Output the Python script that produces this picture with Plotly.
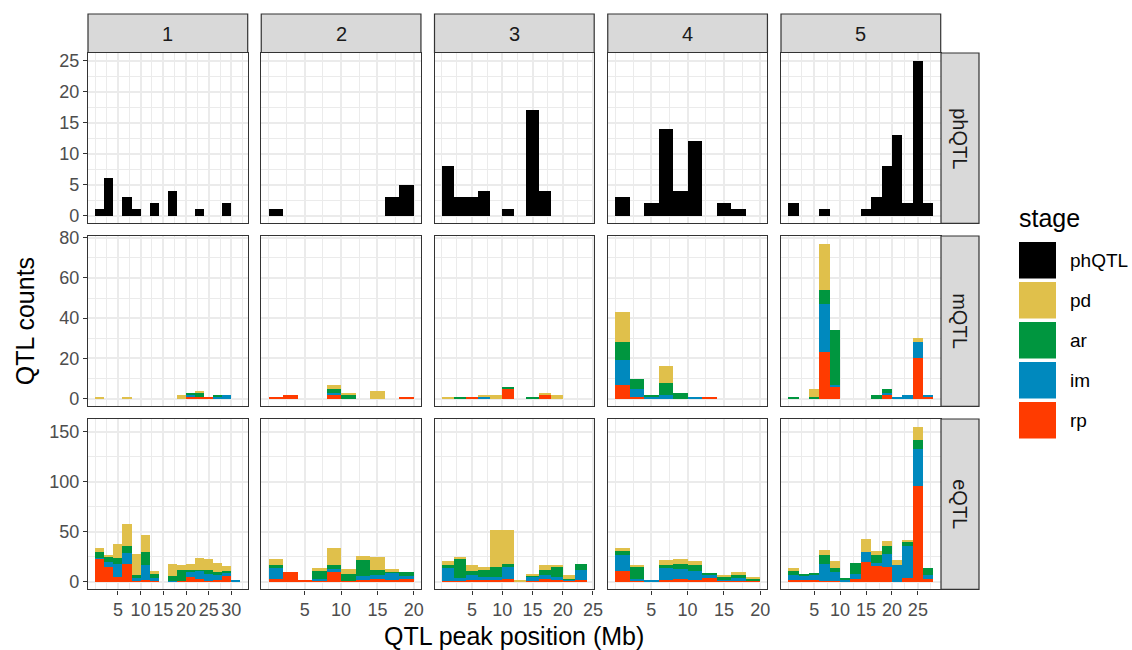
import plotly.graph_objects as go

# ---------------- data ----------------
chromosomes = ["1", "2", "3", "4", "5"]
qtl_types = ["phQTL", "mQTL", "eQTL"]
stages = ["phQTL", "pd", "ar", "im", "rp"]
bin_width = 2
n_bins = [16, 10, 12, 10, 14]
x_last_tick = [30, 20, 25, 20, 25]

# phQTL counts per chromosome (bins of 2 Mb from 0)
phQTL_counts = [
    [1, 6, 0, 3, 1, 0, 2, 0, 4, 0, 0, 1, 0, 0, 2, 0],
    [1, 0, 0, 0, 0, 0, 0, 0, 3, 5],
    [8, 3, 3, 4, 0, 1, 0, 17, 4, 0, 0, 0],
    [3, 0, 2, 14, 4, 12, 0, 2, 1, 0],
    [2, 0, 0, 1, 0, 0, 0, 1, 3, 8, 13, 2, 25, 2],
]

# mQTL counts per stage, per chromosome
mQTL_rp = [
    [0, 0, 0, 0, 0, 0, 0, 0, 0, 0, 1, 1, 1, 0, 0, 0],
    [1, 2, 0, 0, 2, 0, 0, 0, 0, 1],
    [0, 0, 1, 0, 0, 5, 0, 0, 2, 0, 0, 0],
    [7, 1, 0, 0, 0, 0, 1, 0, 0, 0],
    [0, 0, 0, 23, 6, 0, 0, 0, 0, 2, 0, 0, 20, 1],
]
mQTL_im = [
    [0, 0, 0, 0, 0, 0, 0, 0, 0, 0, 1, 0, 0, 1, 2, 0],
    [0, 0, 0, 0, 1, 0, 0, 0, 0, 0],
    [0, 0, 0, 1, 0, 0, 0, 0, 0, 0, 0, 0],
    [12, 4, 1, 2, 0, 1, 0, 0, 0, 0],
    [0, 0, 0, 24, 1, 0, 0, 0, 0, 1, 1, 2, 8, 1],
]
mQTL_ar = [
    [0, 0, 0, 0, 0, 0, 0, 0, 0, 0, 1, 2, 0, 1, 0, 0],
    [0, 0, 0, 0, 2, 2, 0, 0, 0, 0],
    [0, 1, 0, 0, 0, 1, 0, 1, 0, 0, 0, 0],
    [9, 5, 1, 6, 3, 0, 0, 0, 0, 0],
    [1, 0, 1, 7, 27, 0, 0, 0, 2, 2, 0, 0, 0, 0],
]
mQTL_pd = [
    [1, 0, 0, 1, 0, 0, 0, 0, 0, 2, 0, 1, 0, 0, 0, 0],
    [0, 0, 0, 0, 2, 1, 0, 4, 0, 0],
    [1, 0, 0, 1, 2, 0, 0, 0, 1, 2, 0, 0],
    [15, 0, 0, 8, 0, 0, 0, 0, 0, 0],
    [0, 0, 4, 23, 0, 0, 0, 0, 0, 0, 0, 0, 2, 0],
]

# eQTL counts per stage, per chromosome
eQTL_rp = [
    [23, 15, 5, 18, 1, 2, 1, 0, 0, 1, 5, 3, 1, 2, 6, 0],
    [3, 10, 1, 1, 10, 1, 2, 3, 2, 3],
    [1, 1, 2, 2, 2, 3, 0, 1, 3, 2, 1, 2],
    [11, 1, 0, 2, 3, 2, 4, 1, 1, 1],
    [2, 2, 2, 1, 1, 0, 3, 20, 16, 15, 0, 4, 96, 3],
]
eQTL_im = [
    [1, 5, 13, 11, 3, 15, 3, 0, 1, 0, 5, 8, 7, 5, 3, 1],
    [11, 0, 0, 2, 3, 0, 4, 4, 7, 3],
    [13, 3, 5, 3, 3, 12, 0, 4, 4, 3, 1, 10],
    [16, 2, 1, 12, 10, 9, 3, 1, 3, 0],
    [5, 4, 5, 17, 9, 2, 5, 10, 3, 13, 17, 32, 37, 4],
]
eQTL_ar = [
    [6, 5, 6, 7, 3, 13, 4, 0, 5, 11, 2, 1, 4, 3, 2, 0],
    [3, 0, 0, 8, 4, 7, 16, 5, 1, 4],
    [3, 19, 4, 7, 10, 3, 0, 1, 5, 10, 1, 6],
    [4, 12, 0, 3, 5, 6, 2, 3, 3, 2],
    [4, 1, 1, 9, 4, 1, 11, 0, 8, 8, 0, 4, 9, 7],
]
eQTL_pd = [
    [4, 1, 14, 22, 21, 17, 3, 0, 12, 5, 6, 12, 11, 9, 5, 0],
    [6, 0, 0, 3, 17, 5, 4, 13, 3, 0],
    [4, 2, 6, 3, 37, 34, 1, 1, 5, 2, 4, 0],
    [3, 1, 0, 5, 5, 4, 0, 2, 3, 1],
    [3, 0, 0, 5, 7, 0, 0, 13, 4, 5, 5, 2, 13, 0],
]

y_ticks_ph = [0, 5, 10, 15, 20, 25]
y_ticks_m = [0, 20, 40, 60, 80]
y_ticks_e = [0, 50, 100, 150]

# ---------------- styling ----------------
W, H = 1132, 650
colors = {"phQTL": "#000000", "pd": "#E0C04B", "ar": "#00963F",
          "im": "#0089BE", "rp": "#FF3B00"}
FONT = "Liberation Sans, Arial, sans-serif"
GRID = "#EBEBEB"
BORDER = "#333333"

col_left = [88 + 173.25 * c for c in range(5)]
col_w = 159.7
row_top = [53 + 183 * r for r in range(3)]
row_h = 170.4


def px(x):
    return x / W


def py(y):
    return 1 - y / H


stack_data = {
    "mQTL": {"rp": mQTL_rp, "im": mQTL_im, "ar": mQTL_ar, "pd": mQTL_pd},
    "eQTL": {"rp": eQTL_rp, "im": eQTL_im, "ar": eQTL_ar, "pd": eQTL_pd},
}
row_ticks = [y_ticks_ph, y_ticks_m, y_ticks_e]

# y-range per row from data (5% expansion like ggplot)
row_max = []
for qt in qtl_types:
    if qt == "phQTL":
        m = max(max(v) for v in phQTL_counts)
    else:
        m = 0
        for c in range(5):
            for k in range(n_bins[c]):
                m = max(m, sum(stack_data[qt][s][c][k] for s in ["rp", "im", "ar", "pd"]))
    row_max.append(m)

fig = go.Figure()
layout_axes = {}
for r, qt in enumerate(qtl_types):
    ymax = row_max[r]
    yr = [-0.05 * ymax, 1.05 * ymax]
    yt = row_ticks[r]
    ystep = yt[1] - yt[0]
    yminor = [v + ystep / 2 for v in [yt[0] - ystep] + yt if yr[0] < v + ystep / 2 < yr[1]]
    for c in range(5):
        idx = r * 5 + c + 1
        sfx = "" if idx == 1 else str(idx)
        centers = [bin_width * (k + 0.5) for k in range(n_bins[c])]
        if qt == "phQTL":
            fig.add_trace(go.Bar(x=centers, y=phQTL_counts[c], width=bin_width,
                                 marker=dict(color=colors["phQTL"], line=dict(width=0)),
                                 xaxis="x" + sfx, yaxis="y" + sfx, showlegend=False,
                                 name="phQTL"))
        else:
            for s in ["rp", "im", "ar", "pd"]:
                fig.add_trace(go.Bar(x=centers, y=stack_data[qt][s][c], width=bin_width,
                                     marker=dict(color=colors[s], line=dict(width=0)),
                                     xaxis="x" + sfx, yaxis="y" + sfx, showlegend=False,
                                     name=s))
        xmax = n_bins[c] * bin_width
        xr = [-0.05 * xmax, 1.05 * xmax]
        xt = list(range(5, x_last_tick[c] + 1, 5))
        xminor = [v for v in [0] + [t + 2.5 for t in [0] + xt] if xr[0] < v < xr[1]]
        bottom = r == 2
        left = c == 0
        layout_axes["xaxis" + sfx] = dict(
            domain=[px(col_left[c]), px(col_left[c] + col_w)],
            anchor="y" + sfx, range=xr, tickmode="array", tickvals=xt,
            showticklabels=bottom, ticks="outside" if bottom else "",
            ticklen=4, tickwidth=1, tickcolor=BORDER,
            tickfont=dict(size=18, color="#4D4D4D", family=FONT),
            showgrid=True, gridcolor=GRID, gridwidth=1.6, zeroline=False,
            minor=dict(tickmode="array", tickvals=xminor, showgrid=True,
                       gridcolor=GRID, gridwidth=0.8, ticks=""),
            showline=True, mirror=True, linecolor=BORDER, linewidth=1.2,
            fixedrange=True, automargin=False,
        )
        layout_axes["yaxis" + sfx] = dict(
            domain=[py(row_top[r] + row_h), py(row_top[r])],
            anchor="x" + sfx, range=yr, tickmode="array", tickvals=yt,
            showticklabels=left, ticks="outside" if left else "",
            ticklen=4, tickwidth=1, tickcolor=BORDER,
            tickfont=dict(size=18, color="#4D4D4D", family=FONT),
            showgrid=True, gridcolor=GRID, gridwidth=1.6, zeroline=False,
            minor=dict(tickmode="array", tickvals=yminor, showgrid=True,
                       gridcolor=GRID, gridwidth=0.8, ticks=""),
            showline=True, mirror=True, linecolor=BORDER, linewidth=1.2,
            fixedrange=True, automargin=False,
        )

shapes = []
annotations = []
# top strips
for c, ch in enumerate(chromosomes):
    shapes.append(dict(type="rect", xref="paper", yref="paper",
                       x0=px(col_left[c]), x1=px(col_left[c] + col_w),
                       y0=py(52.5), y1=py(14), fillcolor="#D9D9D9",
                       line=dict(color=BORDER, width=1.2), layer="above"))
    annotations.append(dict(xref="paper", yref="paper",
                            x=px(col_left[c] + col_w / 2), y=py(33.5),
                            xanchor="center", yanchor="middle",
                            text=ch, showarrow=False,
                            font=dict(size=20, color="#1A1A1A", family=FONT)))
# right strips
for r, qt in enumerate(qtl_types):
    shapes.append(dict(type="rect", xref="paper", yref="paper",
                       x0=px(941), x1=px(979),
                       y0=py(row_top[r] + row_h), y1=py(row_top[r]),
                       fillcolor="#D9D9D9", line=dict(color=BORDER, width=1.2),
                       layer="above"))
    annotations.append(dict(xref="paper", yref="paper",
                            x=px(960), y=py(row_top[r] + row_h / 2),
                            xanchor="center", yanchor="middle",
                            text=qt, showarrow=False, textangle=90,
                            font=dict(size=20, color="#1A1A1A", family=FONT)))

# axis titles
annotations.append(dict(xref="paper", yref="paper",
                        x=px((col_left[0] + col_left[4] + col_w) / 2), y=py(636),
                        xanchor="center", yanchor="middle",
                        text="QTL peak position (Mb)", showarrow=False,
                        font=dict(size=25, color="#000000", family=FONT)))
annotations.append(dict(xref="paper", yref="paper",
                        x=px(25), y=py((row_top[0] + row_top[2] + row_h) / 2),
                        xanchor="center", yanchor="middle",
                        text="QTL counts", showarrow=False, textangle=-90,
                        font=dict(size=25, color="#000000", family=FONT)))

# legend (drawn manually for ggplot-like keys)
annotations.append(dict(xref="paper", yref="paper", x=px(1017), y=py(218),
                        xanchor="left", yanchor="middle", text="stage", showarrow=False,
                        font=dict(size=25, color="#000000", family=FONT)))
for i, s in enumerate(stages):
    top = 242 + 40 * i
    shapes.append(dict(type="rect", xref="paper", yref="paper",
                       x0=px(1019), x1=px(1056), y0=py(top + 36.5), y1=py(top),
                       fillcolor=colors[s], line=dict(width=0)))
    annotations.append(dict(xref="paper", yref="paper", x=px(1068),
                            y=py(top + 18.5), xanchor="left", yanchor="middle",
                            text=s, showarrow=False,
                            font=dict(size=19, color="#000000", family=FONT)))

fig.update_layout(
    template="none",
    width=W, height=H, margin=dict(l=0, r=0, t=0, b=0, pad=0, autoexpand=False),
    plot_bgcolor="white", paper_bgcolor="white",
    barmode="stack", showlegend=False,
    shapes=shapes, annotations=annotations,
    font=dict(family=FONT),
    **layout_axes,
)

fig.write_html(
    "out.html",
    config={"displayModeBar": False, "staticPlot": False},
    post_script=("document.body.style.margin='0';document.body.style.padding='0';"
                 "document.documentElement.style.overflow='hidden';"),
)
